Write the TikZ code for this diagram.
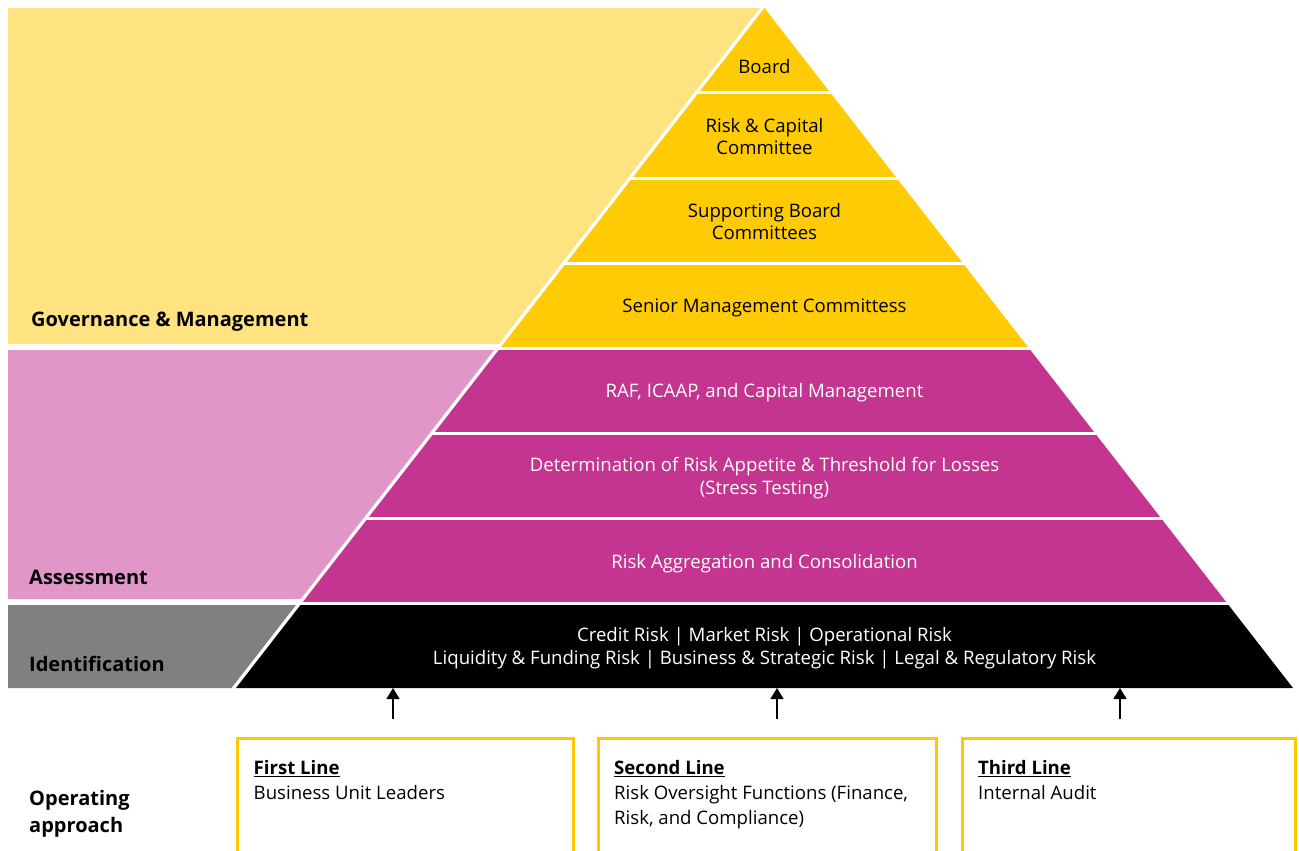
\documentclass[tikz,border=0pt]{standalone}
\usepackage{fontspec}
\setmainfont{Open Sans}
\usepackage{xcolor}
\usetikzlibrary{arrows.meta,positioning,calc}
\definecolor{pyrgold}{RGB}{255,203,5}
\definecolor{govyellow}{RGB}{254,227,128}
\definecolor{pyrmagenta}{RGB}{195,53,144}
\definecolor{asspink}{RGB}{225,150,200}
\definecolor{idgray}{RGB}{128,128,128}
\definecolor{boxgold}{RGB}{255,200,0}
\newcommand{\pyrslope}{0.7772}

\begin{document}
\begin{tikzpicture}[x=1pt,y=-1pt,>={Triangle[length=11pt,width=13pt]},
	layer text/.style={align=center,font=\fontsize{18.6}{22.5}\selectfont,inner sep=0pt},
	side label/.style={anchor=west,align=left,font=\fontsize{20}{27}\selectfont\bfseries,inner sep=0pt},
	line box/.style={draw=boxgold,line width=3pt,anchor=north west,minimum height=200pt,inner sep=0pt},
	box text/.style={align=left,font=\fontsize{18.6}{25}\selectfont,inner sep=0pt}]

    \useasboundingbox (0,0) rectangle (1299,851);
    \clip (0,0) rectangle (1299,851);

    % left bands
    \fill[govyellow] (8,8) -- (760,8) -- ({760-336*\pyrslope},344) -- (8,344) -- cycle;
    \fill[asspink] (8,350) -- ({760-342*\pyrslope},350) -- ({760-591*\pyrslope},599) -- (8,599) -- cycle;
    \fill[idgray] (8,605) -- ({760-597*\pyrslope},605) -- ({760-680*\pyrslope},688) -- (8,688) -- cycle;

    % pyramid
    \foreach \i/\col in {0/pyrgold,1/pyrgold,2/pyrgold,3/pyrgold,4/pyrmagenta,5/pyrmagenta,6/pyrmagenta,7/black}{
        \pgfmathsetmacro\yt{8+85*\i}
        \pgfmathsetmacro\yb{93+85*\i}
        \fill[\col] ({764.5-(\yt-8)*\pyrslope},\yt) -- ({764.5+(\yt-8)*\pyrslope},\yt)
            -- ({764.5+(\yb-8)*\pyrslope},\yb) -- ({764.5-(\yb-8)*\pyrslope},\yb) -- cycle;
    }
    \foreach \i in {1,...,7}{
        \pgfmathsetmacro\ys{8+85*\i}
        \draw[white,line width=3pt] ({762-(\ys-8)*\pyrslope},\ys) -- ({767+(\ys-8)*\pyrslope},\ys);
    }

    \node[layer text] (board) at (764.5,66.5) {Board};
    \node[layer text] (riskcap) at (764.5,136.5) {Risk \& Capital\\Committee};
    \node[layer text] (support) at (764.5,221.5) {Supporting Board\\Committees};
    \node[layer text] (senior) at (764.5,307.5) {Senior Management Committess};
    \node[layer text,white] (raf) at (764.5,392.5) {RAF, ICAAP, and Capital Management};
    \node[layer text,white] (appetite) at (764.5,478) {Determination of Risk Appetite \& Threshold for Losses\\(Stress Testing)};
    \node[layer text,white] (aggr) at (764.5,563.5) {Risk Aggregation and Consolidation};
    \node[layer text,white] (risks) at (764.5,648) {Credit Risk | Market Risk | Operational Risk\\Liquidity \& Funding Risk | Business \& Strategic Risk | Legal \& Regulatory Risk};

    % side labels
    \node[side label] (govlab) at (31,322) {Governance \& Management};
    \node[side label] (asslab) at (29,577) {Assessment};
    \node[side label] (idlab) at (29,664) {Identification};
    \node[side label] (oplab) at (29,814) {Operating\\approach};

    % lines of defence
    \node[line box,minimum width=336pt] (first) at (236,737) {};
    \node[line box,minimum width=338pt] (second) at (597,737) {};
    \node[line box,minimum width=333pt] (third) at (961,737) {};

    \node[box text,below right=23pt and 17.5pt of first.north west] (firsttxt) {\textbf{\underline{First Line}}\\Business Unit Leaders};
    \node[box text,below right=23pt and 17pt of second.north west] (secondtxt) {\textbf{\underline{Second Line}}\\Risk Oversight Functions (Finance,\\Risk, and Compliance)};
    \node[box text,below right=23pt and 17pt of third.north west] (thirdtxt) {\textbf{\underline{Third Line}}\\Internal Audit};

    \coordinate (pyrbase) at (764.5,688);
    \coordinate (tail1) at (393,719);
    \coordinate (tail2) at (777,719);
    \coordinate (tail3) at (1120,719);
    \foreach \t in {tail1,tail2,tail3}
        \draw[->,line width=1.5pt] (\t) -- (\t |- pyrbase);

\end{tikzpicture}
\end{document}
